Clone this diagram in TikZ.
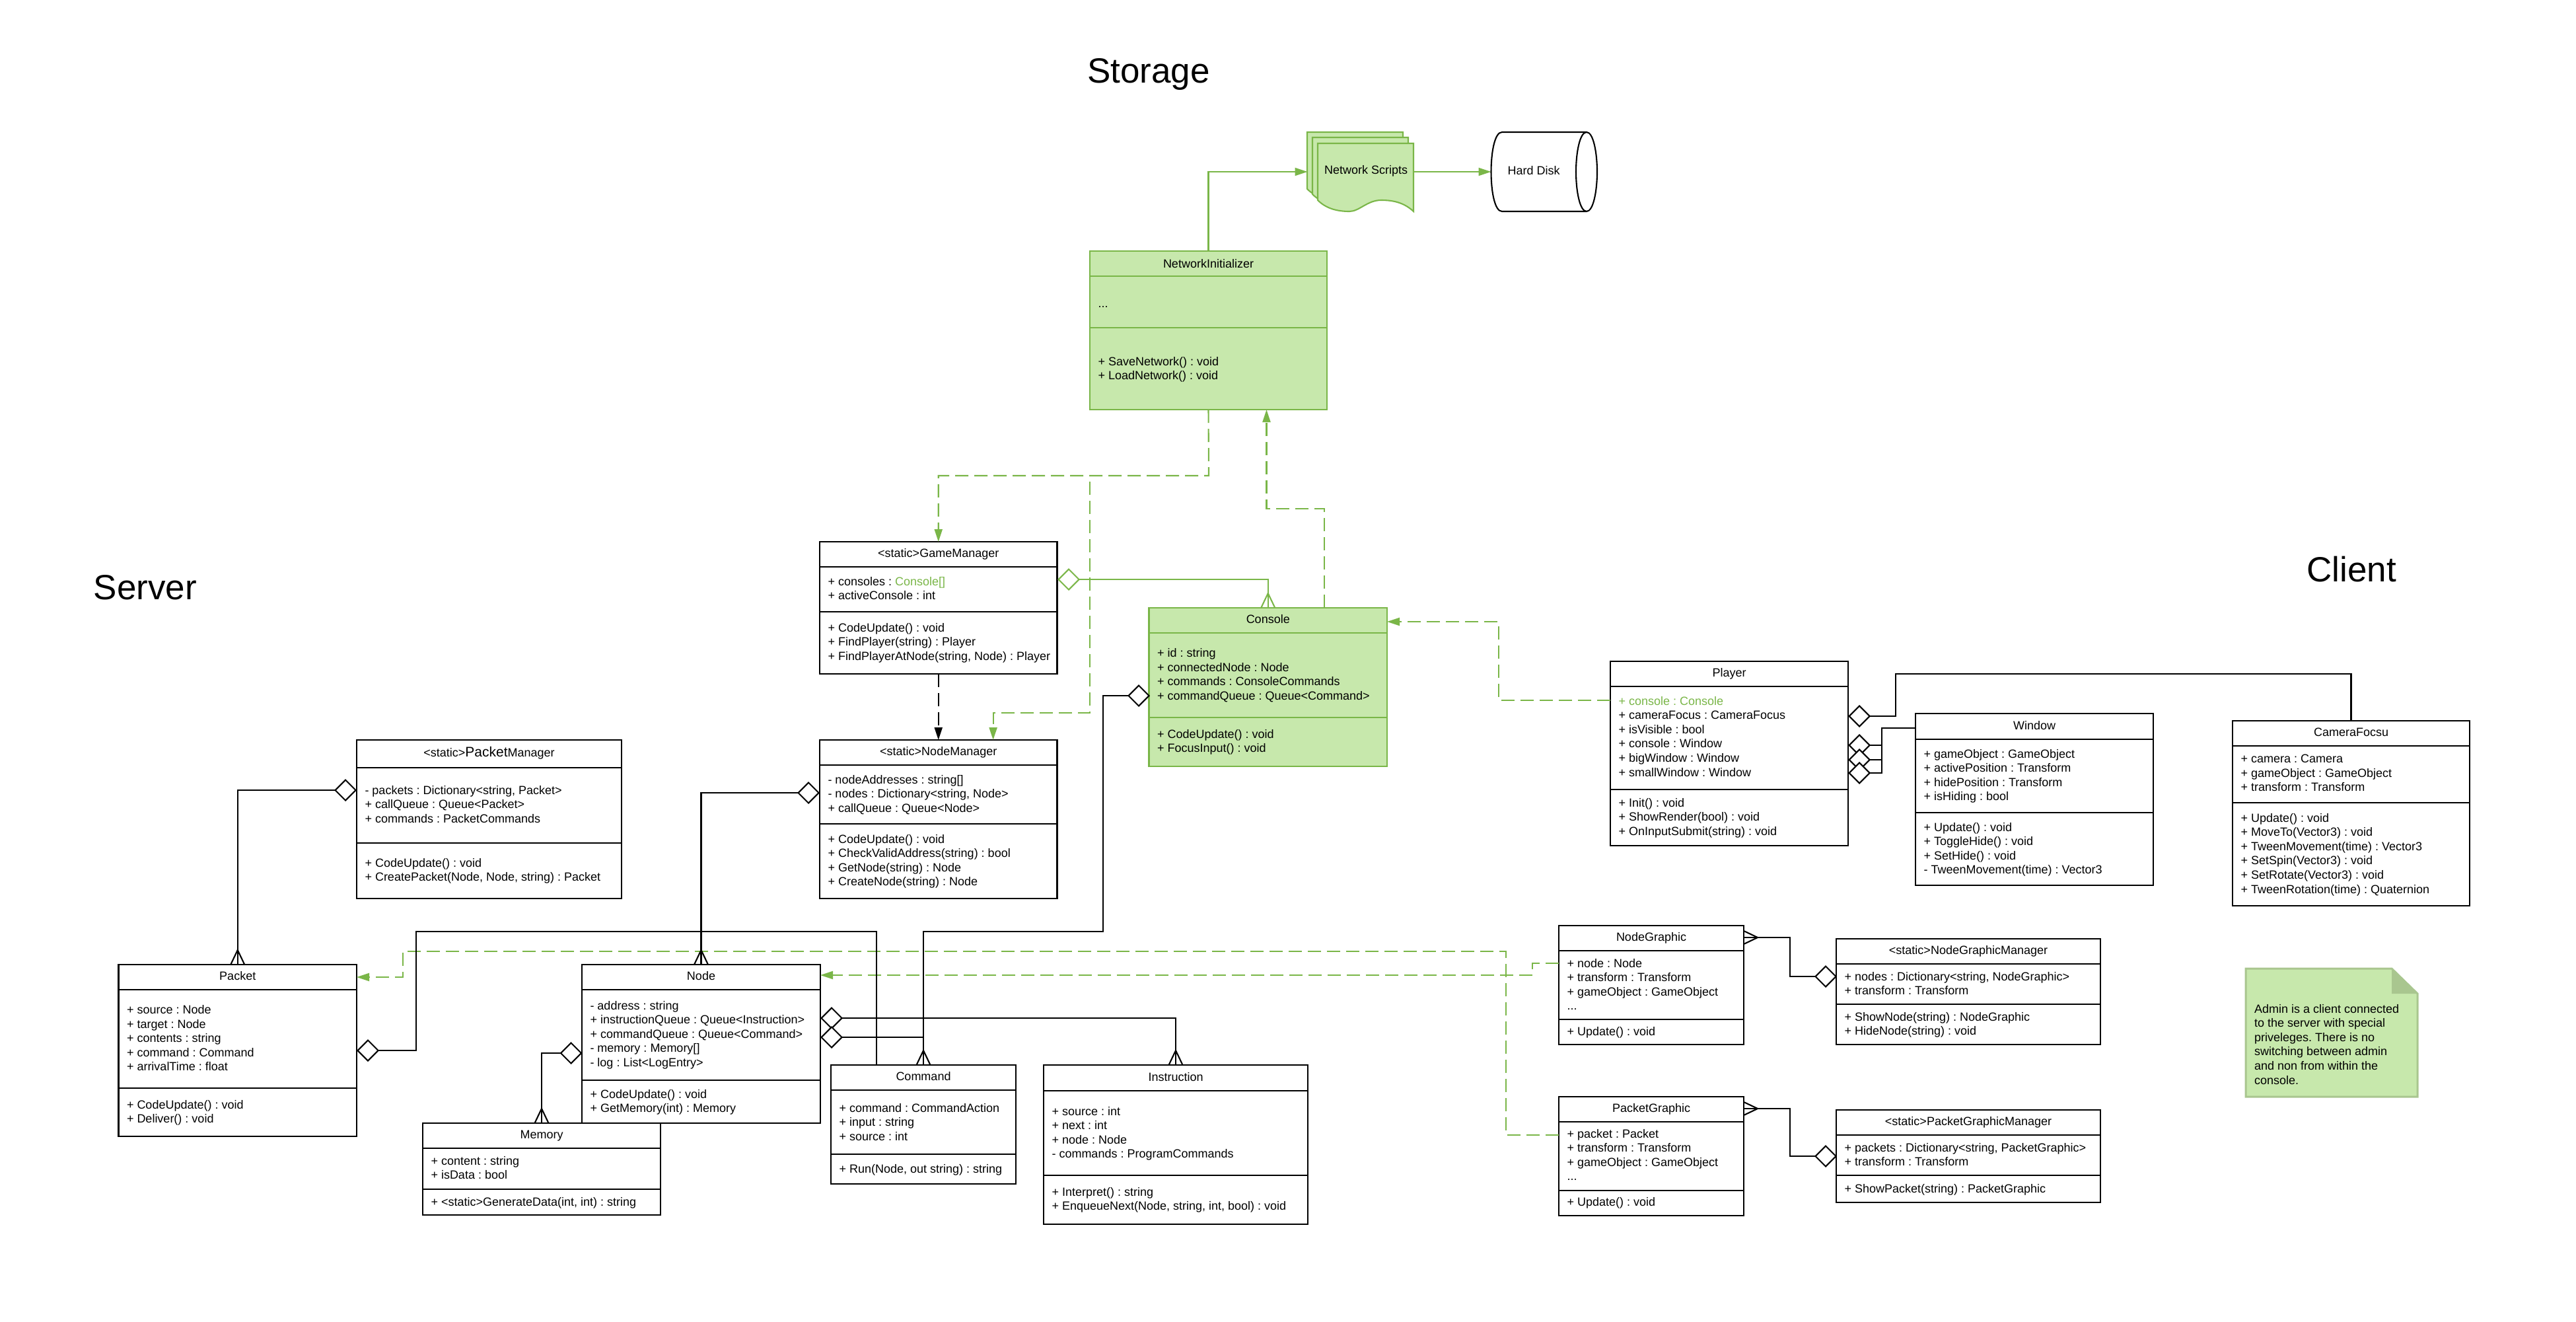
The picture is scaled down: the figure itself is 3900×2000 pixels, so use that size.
\documentclass[tikz,border=0pt]{standalone}
\usepackage{fontspec}
\setmainfont{Liberation Sans}
\usetikzlibrary{arrows.meta,fit,shapes.geometric}
\definecolor{lgreen}{HTML}{7AB648}
\definecolor{lfill}{HTML}{C7E8AC}
\definecolor{noteedge}{HTML}{A9C68F}
\frenchspacing
\tikzset{
  lw/.style={line width=2.1pt},
  base font/.style={font=\frenchspacing\fontsize{18}{21.6}\selectfont},
  blackbox/.style={draw=black,fill=white},
  greenbox/.style={draw=lgreen,fill=lfill},
  boxshape/.style={lw,rectangle,inner sep=0pt,outer sep=0pt},
  cmpt/.style={base font,align=left,anchor=north west,inner sep=0pt,outer sep=0pt,xshift=12.5pt,yshift=6pt},
  ttl/.style={base font,anchor=base,inner sep=0pt,outer sep=0pt,yshift=-6pt},
  dia/.style={diamond,lw,draw=black,fill=white,minimum width=31pt,minimum height=31pt,inner sep=0pt,outer sep=0pt},
  gdia/.style={dia,draw=lgreen},
  conn/.style={lw,draw=black},
  gconn/.style={lw,draw=lgreen},
  filltip/.style={-{Triangle[length=19pt,width=12pt]}},
  gdash/.style={lw,draw=lgreen,dash pattern=on 20pt off 9pt,filltip},
  bdash/.style={lw,draw=black,dash pattern=on 20pt off 9pt,filltip},
  head/.style={font=\fontsize{53}{60}\selectfont,inner sep=0pt,outer sep=0pt}
}
% [style]{name}{corner}{corner}{divider y}{divider y}{title y}{title}
\newcommand{\umlclass}[8][blackbox]{%
  \node[boxshape,#1,fit={(#3)(#4)}] (#2) {};
  \draw[lw,#1] (#2.west |- 0,#5) -- (#2.east |- 0,#5);
  \draw[lw,#1] (#2.west |- 0,#6) -- (#2.east |- 0,#6);
  \node[ttl] (#2T) at (#2.north |- 0,#7) {#8};
}
\newcommand{\cmp}[4]{\node[cmpt] (#1#2) at (#1.west |- 0,#3) {\rule{0pt}{12pt}#4};}
\newcommand{\crowdown}[1]{\draw[conn] ([xshift=-10.5pt]#1) -- ([yshift=22pt]#1) -- ([xshift=10.5pt]#1);}
\newcommand{\docpage}[2]{\draw[gconn,fill=lfill,shift={(#1,#2)}]
  (1995,217) -- (2140,217) -- (2140,320)
  .. controls (2125,306) and (2108,303) .. (2091,303)
  .. controls (2070,303) and (2058,320) .. (2043,320)
  .. controls (2025,320) and (2008,316) .. (1995,303) -- cycle;}
\begin{document}
\begin{tikzpicture}[x=1pt,y=-1pt]
\useasboundingbox (0,0) rectangle (3900,2000);
\fill[white] (0,0) rectangle (3900,2000);

\node[head] (storage) at (1739,112) {Storage};
\node[head] (server) at (220,889) {Server};
\node[head] (client) at (3560,862) {Client};

% ---------- classes
\umlclass[greenbox]{NI}{1650,380}{2009,620}{418}{496}{399}{NetworkInitializer}
\cmp{NI}{a}{459}{...}
\cmp{NI}{o}{546}{+ SaveNetwork() : void\\+ LoadNetwork() : void}

\umlclass{GM}{1241,820}{1600.5,1020}{858}{926}{837}{<static>GameManager}
\cmp{GM}{a}{879}{+ consoles : \textcolor{lgreen}{Console[]}\\+ activeConsole : int}
\cmp{GM}{o}{949}{+ CodeUpdate() : void\\+ FindPlayer(string) : Player\\+ FindPlayerAtNode(string, Node) : Player}

\umlclass{NM}{1241,1120}{1600.5,1360}{1158}{1247}{1137}{<static>NodeManager}
\cmp{NM}{a}{1179}{- nodeAddresses : string[]\\- nodes : Dictionary<string, Node>\\+ callQueue : Queue<Node>}
\cmp{NM}{o}{1269}{+ CodeUpdate() : void\\+ CheckValidAddress(string) : bool\\+ GetNode(string) : Node\\+ CreateNode(string) : Node}

\umlclass[greenbox]{Con}{1739.5,920}{2100,1160}{958}{1086}{937}{Console}
\cmp{Con}{a}{987.5}{+ id : string\\+ connectedNode : Node\\+ commands : ConsoleCommands\\+ commandQueue : Queue<Command>}
\cmp{Con}{o}{1110}{+ CodeUpdate() : void\\+ FocusInput() : void}

\umlclass{PM}{540,1120}{941,1360}{1162}{1276}{1139}{<static>{\fontsize{21}{21.6}\selectfont Packet}Manager}
\cmp{PM}{a}{1195}{- packets : Dictionary<string, Packet>\\+ callQueue : Queue<Packet>\\+ commands : PacketCommands}
\cmp{PM}{o}{1305}{+ CodeUpdate() : void\\+ CreatePacket(Node, Node, string) : Packet}

\umlclass{Pk}{179.5,1460}{540,1720}{1498}{1647}{1477}{Packet}
\cmp{Pk}{a}{1527.5}{+ source : Node\\+ target : Node\\+ contents : string\\+ command : Command\\+ arrivalTime : float}
\cmp{Pk}{o}{1671}{+ CodeUpdate() : void\\+ Deliver() : void}

\umlclass{Nd}{881,1460}{1242,1700}{1498}{1635}{1477}{Node}
\cmp{Nd}{a}{1521}{- address : string\\+ instructionQueue : Queue<Instruction>\\+ commandQueue : Queue<Command>\\- memory : Memory[]\\- log : List<LogEntry>}
\cmp{Nd}{o}{1655}{+ CodeUpdate() : void\\+ GetMemory(int) : Memory}

\umlclass{Mem}{640,1700}{1000,1839}{1738}{1800}{1717}{Memory}
\cmp{Mem}{a}{1756}{+ content : string\\+ isData : bool}
\cmp{Mem}{o}{1818}{+ <static>GenerateData(int, int) : string}

\umlclass{Cmd}{1258,1612}{1538,1792}{1650}{1747}{1629}{Command}
\cmp{Cmd}{a}{1676}{+ command : CommandAction\\+ input : string\\+ source : int}
\cmp{Cmd}{o}{1768}{+ Run(Node, out string) : string}

\umlclass{Ins}{1580,1612}{1980,1853}{1651}{1779}{1630}{Instruction}
\cmp{Ins}{a}{1681}{+ source : int\\+ next : int\\+ node : Node\\- commands : ProgramCommands}
\cmp{Ins}{o}{1803}{+ Interpret() : string\\+ EnqueueNext(Node, string, int, bool) : void}

\umlclass{Pl}{2438,1001}{2798,1280}{1039}{1195}{1018}{Player}
\cmp{Pl}{a}{1060}{\textcolor{lgreen}{+ console : Console}\\+ cameraFocus : CameraFocus\\+ isVisible : bool\\+ console : Window\\+ bigWindow : Window\\+ smallWindow : Window}
\cmp{Pl}{o}{1214}{+ Init() : void\\+ ShowRender(bool) : void\\+ OnInputSubmit(string) : void}

\umlclass{Win}{2900,1080}{3260,1340}{1119}{1230}{1098}{Window}
\cmp{Win}{a}{1140}{+ gameObject : GameObject\\+ activePosition : Transform\\+ hidePosition : Transform\\+ isHiding : bool}
\cmp{Win}{o}{1251}{+ Update() : void\\+ ToggleHide() : void\\+ SetHide() : void\\- TweenMovement(time) : Vector3}

\umlclass{Cam}{3380,1091}{3739,1371}{1129}{1215}{1108}{CameraFocsu}
\cmp{Cam}{a}{1148}{+ camera : Camera\\+ gameObject : GameObject\\+ transform : Transform}
\cmp{Cam}{o}{1237}{+ Update() : void\\+ MoveTo(Vector3) : void\\+ TweenMovement(time) : Vector3\\+ SetSpin(Vector3) : void\\+ SetRotate(Vector3) : void\\+ TweenRotation(time) : Quaternion}

\umlclass{NG}{2360,1401}{2640,1581}{1439}{1543}{1418}{NodeGraphic}
\cmp{NG}{a}{1457}{+ node : Node\\+ transform : Transform\\+ gameObject : GameObject\\...}
\cmp{NG}{o}{1560}{+ Update() : void}

\umlclass{NGM}{2780,1421}{3180,1581}{1459}{1520}{1438}{<static>NodeGraphicManager}
\cmp{NGM}{a}{1477}{+ nodes : Dictionary<string, NodeGraphic>\\+ transform : Transform}
\cmp{NGM}{o}{1538}{+ ShowNode(string) : NodeGraphic\\+ HideNode(string) : void}

\umlclass{PG}{2360,1660}{2640,1840}{1698}{1802}{1677}{PacketGraphic}
\cmp{PG}{a}{1715}{+ packet : Packet\\+ transform : Transform\\+ gameObject : GameObject\\...}
\cmp{PG}{o}{1818}{+ Update() : void}

\umlclass{PGM}{2780,1680}{3180,1820}{1718}{1779}{1697}{<static>PacketGraphicManager}
\cmp{PGM}{a}{1736}{+ packets : Dictionary<string, PacketGraphic>\\+ transform : Transform}
\cmp{PGM}{o}{1798}{+ ShowPacket(string) : PacketGraphic}

% ---------- note
\draw[line width=3pt,draw=noteedge,fill=lfill] (3400,1466) -- (3621,1466) -- (3660,1504) -- (3660,1660) -- (3400,1660) -- cycle;
\fill[noteedge] (3621,1466) -- (3660,1504) -- (3621,1504) -- cycle;
\node[base font,align=left,anchor=north west,inner sep=0pt,outer sep=0pt,yshift=6pt] (note) at (3413,1526)
  {\rule{0pt}{12pt}Admin is a client connected\\to the server with special\\priveleges. There is no\\switching between admin\\and non from within the\\console.};

% ---------- storage shapes
\docpage{-16}{-17}
\docpage{-8}{-9}
\docpage{0}{0}
\node[base font,inner sep=0pt] (scripts) at (2068,259) {Network Scripts};
\coordinate (docIn) at (1979.5,260);
\coordinate (docOut) at (2140,260);
\draw[lw,draw=black,fill=white] (2274,200) -- (2402,200)
  .. controls (2412,200) and (2418,230) .. (2418,260)
  .. controls (2418,290) and (2412,320) .. (2402,320) -- (2274,320)
  .. controls (2263,320) and (2257.5,290) .. (2257.5,260)
  .. controls (2257.5,230) and (2263,200) .. (2274,200) -- cycle;
\draw[lw,draw=black] (2402,200) .. controls (2392,200) and (2386,230) .. (2386,260)
  .. controls (2386,290) and (2392,320) .. (2402,320);
\node[base font,inner sep=0pt] (disk) at (2322,258) {Hard Disk};
\coordinate (diskIn) at (2257.5,260);

% ---------- green solid connectors
\draw[gconn,filltip] (NI.north) |- (docIn);
\draw[gconn,filltip] (docOut) -- (diskIn);

% ---------- coordinates for elbows
\coordinate (busA) at (1830,720);
\coordinate (busB) at (1650,729);
\coordinate (busC) at (1650,1079);
\coordinate (nmIn) at (1503.6,1120);
\coordinate (conOut) at (2005,920);
\coordinate (conMid) at (2005,770);
\coordinate (conMid2) at (1917.5,770);
\coordinate (niIn) at (1917.5,620);
\coordinate (plOut) at (2438,1060);
\coordinate (plMid) at (2269,1060);
\coordinate (plMid2) at (2269,941);
\coordinate (conIn) at (2100,941);
\coordinate (pgOut) at (2360,1718);
\coordinate (pgMid) at (2280,1718);
\coordinate (pgMid2) at (2280,1440);
\coordinate (pkMid) at (610,1440);
\coordinate (pkMid2) at (610,1479);
\coordinate (pkIn) at (540,1479);
\coordinate (ngOut) at (2360,1458);
\coordinate (ngMid) at (2320,1458);
\coordinate (ngMid2) at (2320,1476);
\coordinate (ndIn) at (1242,1476);

% ---------- dependencies
\draw[gdash] (NI.south) -- (busA) -| (GM.north);
\draw[gdash] (busB) -- (busC) -| (nmIn);
\draw[gdash] (conOut) -- (conMid) -- (conMid2) -- (niIn);
\draw[bdash] (GM.south) -- (NM.north);
\draw[gdash] (plOut) -- (plMid) -- (plMid2) -- (conIn);
\draw[gdash] (pgOut) -- (pgMid) -- (pgMid2) -- (pkMid) -- (pkMid2) -- (pkIn);
\draw[gdash] (ngOut) -- (ngMid) -- (ngMid2) -- (ndIn);

% ---------- aggregations
\node[gdia] (dGM) at (1618,877) {};
\node[dia] (dPM) at (523,1196) {};
\node[dia] (dNM) at (1224,1200) {};
\node[dia] (dPk) at (557,1590) {};
\node[dia] (dMem) at (864.5,1594) {};
\node[dia] (dIns) at (1259,1541) {};
\node[dia] (dCmd) at (1259,1570) {};
\node[dia] (dCon) at (1724,1053) {};
\node[dia] (dCam) at (2815,1084) {};
\node[dia] (dW1) at (2815,1128) {};
\node[dia] (dW2) at (2815,1150) {};
\node[dia] (dW3) at (2815,1170) {};
\node[dia] (dNGM) at (2764,1478) {};
\node[dia] (dPGM) at (2764,1750) {};

\coordinate (cmdJoin) at (1327,1612);
\coordinate (pkUp) at (630,1410);
\coordinate (conDown) at (1670,1410);
\coordinate (camUp) at (2870,1020);
\coordinate (wUp) at (2849,1102);
\coordinate (wIn) at (2900,1102);
\coordinate (wB2) at (2849,1150);
\coordinate (wB3) at (2849,1170);
\coordinate (ngOutR) at (2640,1419);
\coordinate (ngDown) at (2710,1478);
\coordinate (pgOutR) at (2640,1678);
\coordinate (pgDown) at (2710,1750);

\draw[gconn] (dGM.east) -| (Con.north);
\draw[gconn] ([xshift=-10.5pt]Con.north) -- ([yshift=22pt]Con.north) -- ([xshift=10.5pt]Con.north);
\draw[conn] (dPM.west) -| (Pk.north);
\crowdown{Pk.north}
\draw[conn] (dNM.west) -| (Nd.north);
\crowdown{Nd.north}
\draw[conn] (dPk.east) -| (pkUp) -| (cmdJoin);
\draw[conn] (dCon.west) -| (conDown) -| (Cmd.north);
\crowdown{Cmd.north}
\draw[conn] (dMem.west) -| (Mem.north);
\crowdown{Mem.north}
\draw[conn] (dIns.east) -| (Ins.north);
\crowdown{Ins.north}
\draw[conn] (dCmd.east) -| (Cmd.north);
\draw[conn] (dCam.east) -| (camUp) -| (Cam.north);
\draw[conn] (dW1.east) -| (wUp) -- (wIn);
\draw[conn] (dW2.east) -- (wB2);
\draw[conn] (dW3.east) -- (wB3) -- (wUp);
\draw[conn] (ngOutR) -| (ngDown) -- (dNGM.west);
\draw[conn] ([yshift=10pt]ngOutR) -- ([xshift=21pt]ngOutR) -- ([yshift=-10pt]ngOutR);
\draw[conn] (pgOutR) -| (pgDown) -- (dPGM.west);
\draw[conn] ([yshift=10pt]pgOutR) -- ([xshift=21pt]pgOutR) -- ([yshift=-10pt]pgOutR);
\end{tikzpicture}
\end{document}
